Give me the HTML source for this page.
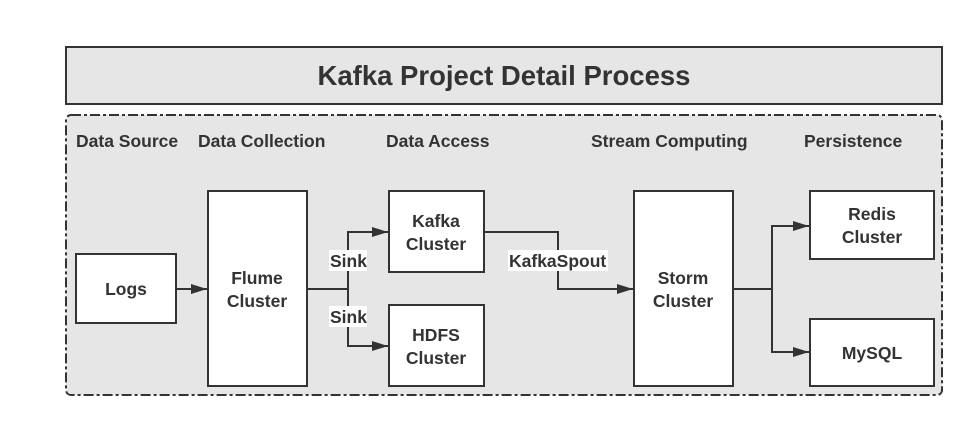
<!DOCTYPE html>
<html><head><style>body{margin:0;background:#fff}</style></head><body>
<svg width="974" height="428" xmlns="http://www.w3.org/2000/svg" font-family="Liberation Sans, Arial, sans-serif" font-weight="bold" fill="#333">
<defs><marker id="a" markerWidth="16" markerHeight="10" refX="16" refY="5" orient="auto" markerUnits="userSpaceOnUse"><path d="M0,0 L16,5 L0,10z" fill="#333"/></marker></defs>
<rect x="66" y="47" width="876" height="57" fill="#e6e6e6" stroke="#333" stroke-width="2"/>
<text x="504" y="85" font-size="27.5" text-anchor="middle">Kafka Project Detail Process</text>
<rect x="66" y="115" width="876" height="280" rx="5" fill="#e6e6e6" stroke="#333" stroke-width="2" stroke-dasharray="10,3,3,3"/>
<g font-size="17.5"><text x="76" y="147">Data Source</text><text x="198" y="147">Data Collection</text><text x="386" y="147">Data Access</text><text x="591" y="147">Stream Computing</text><text x="804" y="147">Persistence</text></g>
<g fill="#fff" stroke="#333" stroke-width="2">
<rect x="76" y="254" width="100" height="69"/><rect x="208" y="191" width="99" height="195"/>
<rect x="389" y="191" width="95" height="81"/><rect x="389" y="305" width="95" height="81"/>
<rect x="634" y="191" width="99" height="195"/><rect x="810" y="191" width="124" height="68"/><rect x="810" y="319" width="124" height="67"/>
</g>
<g fill="none" stroke="#333" stroke-width="2">
<path d="M176 289H207" marker-end="url(#a)"/>
<path d="M307 289H348"/><path d="M348 346V232H388" marker-end="url(#a)"/><path d="M348 289V346H388" marker-end="url(#a)"/>
<path d="M484 232H558V289H633" marker-end="url(#a)"/>
<path d="M733 289H772"/><path d="M772 352V226H809" marker-end="url(#a)"/><path d="M772 289V352H809" marker-end="url(#a)"/>
</g>
<g fill="#fff"><rect x="329" y="250" width="38" height="21"/><rect x="329" y="306" width="38" height="21"/><rect x="508" y="250" width="100" height="21"/></g>
<g font-size="17.5"><text x="330" y="267">Sink</text><text x="330" y="323">Sink</text><text x="509" y="267">KafkaSpout</text></g>
<g font-size="17.5" text-anchor="middle">
<text x="126" y="295">Logs</text>
<text x="257" y="284">Flume</text><text x="257" y="307">Cluster</text>
<text x="436" y="227">Kafka</text><text x="436" y="250">Cluster</text>
<text x="436" y="341">HDFS</text><text x="436" y="364">Cluster</text>
<text x="683" y="284">Storm</text><text x="683" y="307">Cluster</text>
<text x="872" y="220">Redis</text><text x="872" y="243">Cluster</text>
<text x="872" y="359">MySQL</text>
</g>
</svg>
</body></html>
